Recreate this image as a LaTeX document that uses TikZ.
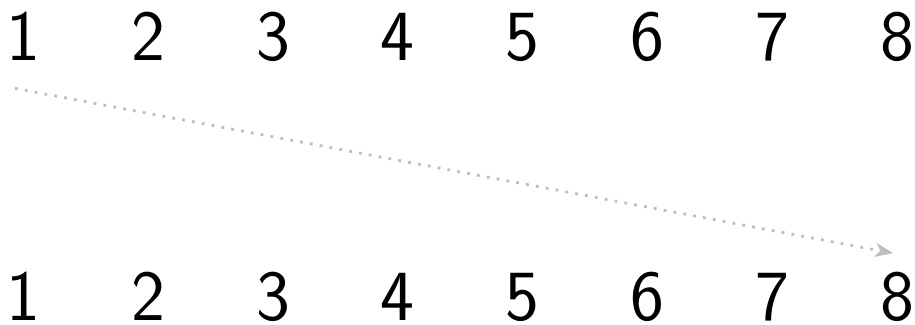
\documentclass[tikz,border=0pt]{standalone}
\usetikzlibrary{positioning,arrows.meta,calc}
\definecolor{figgrey}{gray}{0.74}
\tikzset{
  digit/.style={font=\sffamily\fontsize{36}{40}\selectfont,anchor=base,
                inner sep=0pt},
  ln/.style={-{Stealth[length=9pt,width=7pt,inset=2.5pt]},figgrey,
             line width=1.4pt,dash pattern=on 1.4pt off 3.6pt},
}
\begin{document}
\begin{tikzpicture}[x=0.5pt,y=0.5pt]
\useasboundingbox (0,0) rectangle (915,325);

% ------------------------------------------------ the two rows
\foreach \n in {1,...,8}{
  \node[digit] (t\n) at (23.5+124.8*\n-124.8,264) {\n};
  \node[digit] (b\n) at (23.5+124.8*\n-124.8,4) {\n};
}

% ------------------------------------------------ first to last
\draw[ln] ($(t1.south)+(-4.25pt,-13.5pt)$) -- ($(b8.north)+(-2pt,9.5pt)$);

\end{tikzpicture}
\end{document}
